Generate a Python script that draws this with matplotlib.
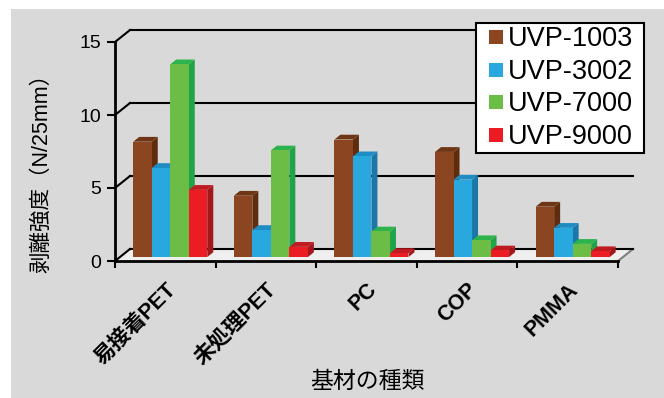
import matplotlib
matplotlib.use('Agg')
from matplotlib import pyplot as plt
from matplotlib.patches import Polygon, Rectangle
from matplotlib.lines import Line2D

plt.rcParams['font.family'] = ['Liberation Sans', 'Noto Sans CJK JP']

categories = ['易接着PET', '未処理PET', 'PC', 'COP', 'PMMA']
series_names = ['UVP-1003', 'UVP-3002', 'UVP-7000', 'UVP-9000']
uvp_1003 = [7.9, 4.2, 8.05, 7.2, 3.45]
uvp_3002 = [6.1, 1.85, 6.9, 5.3, 2.0]
uvp_7000 = [13.2, 7.3, 1.75, 1.15, 0.9]
uvp_9000 = [4.6, 0.7, 0.27, 0.45, 0.4]
y_ticks = [0, 5, 10, 15]

front_colors = ['#8b4520', '#29a8e0', '#6cbd45', '#ec1c24']
side_colors = ['#5f2d0d', '#1b77a6', '#22a34a', '#a2181c']
top_colors = ['#6e3614', '#1f8dc4', '#2db34b', '#c01b21']

W, H = 664, 398
fig = plt.figure(figsize=(W / 100, H / 100), dpi=100, facecolor='white')
fig.patches.append(Rectangle((11 / W, 0), 1 - 11 / W, 1 - 9 / H, transform=fig.transFigure,
                             facecolor='#d9d9d9', edgecolor='none', zorder=-10))

# front plane of the plot box in pixels (y from top)
px0, px1, py0, py1 = 115, 618, 261, 42
ax = fig.add_axes([px0 / W, 1 - py0 / H, (px1 - px0) / W, (py0 - py1) / H])
ax.set_xlim(0, len(categories))
ax.set_ylim(0, 15)
ax.patch.set_visible(False)

# depth of the 3d box, converted to data units
ppx = (px1 - px0) / len(categories)
ppy = (py0 - py1) / 15
dx = 15 / ppx
dy = 12 / ppy
n = len(categories)

# floor
ax.add_patch(Polygon([(0, 0), (n, 0), (n + dx, dy), (dx, dy)], closed=True,
                     facecolor='#efefef', edgecolor='none', zorder=1, clip_on=False))
ax.plot([n, n + dx], [0, dy], color='#808080', lw=1.5, zorder=1.5, clip_on=False)

# back wall grid + left wall lines
for v in y_ticks:
    ax.plot([dx, n + dx], [v + dy, v + dy], color='black', lw=1.5, zorder=1.5, clip_on=False)
    ax.plot([0, dx], [v, v + dy], color='black', lw=1.5, zorder=1.5, clip_on=False)

# bars
series = [uvp_1003, uvp_3002, uvp_7000, uvp_9000]
bw = 0.184
f0 = 0.33
fd = 0.4
order = 0
for i in range(n):
    for k, vals in enumerate(series):
        v = vals[i]
        xl = i + 0.5 - 2 * bw + k * bw + f0 * dx
        xr = xl + bw
        b = f0 * dy
        z = 3 + 2 * order
        ax.add_patch(Polygon([(xr, b), (xr, b + v), (xr + fd * dx, b + v + fd * dy), (xr + fd * dx, b + fd * dy)],
                             closed=True, facecolor=side_colors[k], edgecolor='none', zorder=z, clip_on=False))
        ax.add_patch(Polygon([(xl, b + v), (xr, b + v), (xr + fd * dx, b + v + fd * dy), (xl + fd * dx, b + v + fd * dy)],
                             closed=True, facecolor=top_colors[k], edgecolor='none', zorder=z, clip_on=False))
        ax.bar(xl, v, width=bw, bottom=b, align='edge', color=front_colors[k],
               edgecolor='none', zorder=z + 1, clip_on=False)
        order += 1

for s in ['top', 'right']:
    ax.spines[s].set_visible(False)
ax.spines['left'].set_linewidth(2)
ax.spines['bottom'].set_linewidth(2)
ax.spines['left'].set_zorder(100)
ax.spines['bottom'].set_zorder(100)

ax.set_yticks(y_ticks)
ax.tick_params(axis='y', direction='out', length=6, width=1.5, labelsize=14, pad=4)
ax.set_xticks(range(n + 1))
ax.set_xticklabels([])
ax.tick_params(axis='x', direction='out', length=5, width=1.5)

for i, cat in enumerate(categories):
    ax.annotate(cat, xy=(i + 0.5, 0), xycoords=('data', 'axes fraction'), xytext=(0, -13),
                textcoords='offset points', rotation=45, ha='right', va='top',
                rotation_mode='anchor', fontsize=15.5, fontweight='bold')

ax.set_ylabel('剥離強度（N/25mm）', fontsize=15.5)
ax.yaxis.set_label_coords((42 - px0) / (px1 - px0), (py0 - 168) / (py0 - py1))
ax.set_xlabel('基材の種類', fontsize=16.5)
ax.xaxis.set_label_coords((367 - px0) / (px1 - px0), -(381 - py0) / (py0 - py1))
ax.xaxis.label.set_va('center')
ax.yaxis.label.set_va('center')

handles = [Line2D([], [], linestyle='none', marker='s', markersize=9.4, markeredgewidth=0,
                  markerfacecolor=c) for c in front_colors]
leg = ax.legend(handles, series_names, loc='upper left', mode='expand',
                bbox_to_anchor=(476 / W, 1 - 154 / H, 168 / W, 131 / H),
                bbox_transform=fig.transFigure, frameon=True, fancybox=False, framealpha=1,
                edgecolor='black', fontsize=19.5, handlelength=1.19, handleheight=0.6,
                handletextpad=-0.13, labelspacing=0.24, borderpad=0.125, borderaxespad=0)
leg.get_frame().set_linewidth(1.5)
leg.set_zorder(200)

plt.savefig('out.png', dpi=100)
plt.close()
